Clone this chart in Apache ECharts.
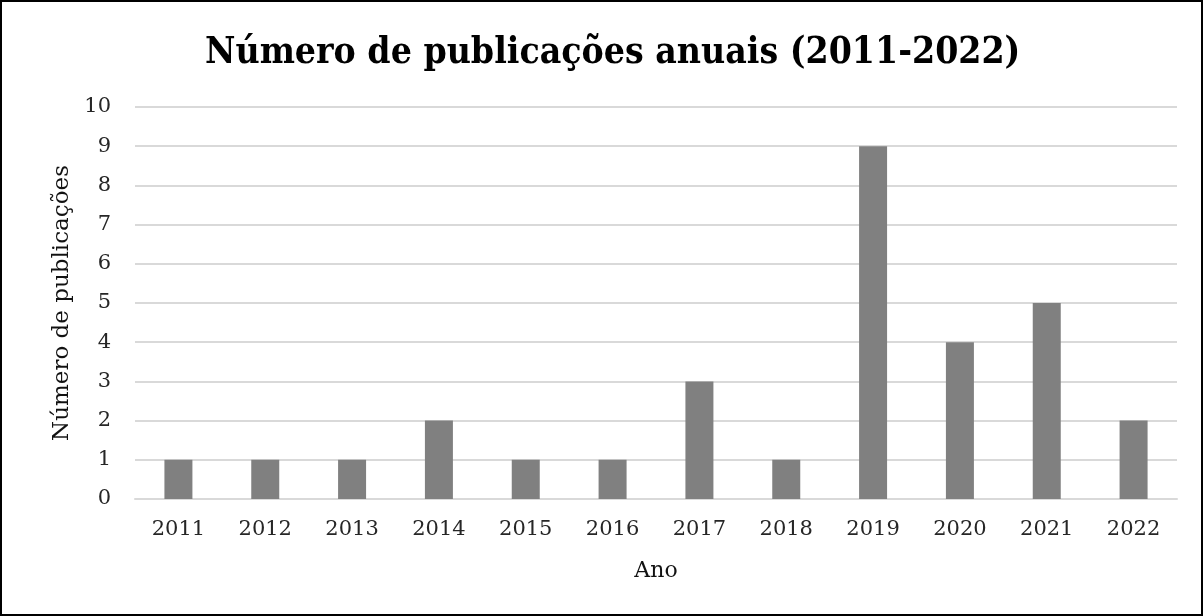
<!DOCTYPE html>
<html>
<head>
<meta charset="utf-8">
<script src="https://cdn.jsdelivr.net/npm/echarts@6/dist/echarts.min.js"></script>
<style>
  html, body { margin: 0; padding: 0; background: #fff; }
  #main { width: 1199px; height: 612px; border: 2px solid #000; }
</style>
</head>
<body>
<div id="main"></div>
<script>
    var anos = ['2011', '2012', '2013', '2014', '2015', '2016', '2017', '2018', '2019', '2020', '2021', '2022'];
    var publicacoes = [1, 1, 1, 2, 1, 1, 3, 1, 9, 4, 5, 2];

    var myChart = echarts.init(document.getElementById('main'));
    var serif = '"DejaVu Serif", "Liberation Serif", serif';

    var option = {
        backgroundColor: '#fff',
        title: {
            text: 'Número de publicações anuais (2011-2022)',
            left: 198,
            top: 28,
            textStyle: {
                fontFamily: '"DejaVu Serif Condensed", "DejaVu Serif", serif',
                fontWeight: 'bold',
                fontSize: 37,
                color: '#000'
            }
        },
        grid: {
            left: 133,
            right: 24,
            top: 105,
            bottom: 115
        },
        xAxis: {
            type: 'category',
            data: anos,
            name: 'Ano',
            nameLocation: 'middle',
            nameGap: 61,
            nameTextStyle: { fontFamily: serif, fontSize: 22, color: '#111' },
            axisLine: { lineStyle: { color: '#d9d9d9', width: 2 } },
            axisTick: { show: false },
            axisLabel: { fontFamily: serif, fontSize: 21, color: '#262626', margin: 20 }
        },
        yAxis: {
            type: 'value',
            min: 0,
            max: 10,
            interval: 1,
            name: 'Número de publicações',
            nameLocation: 'middle',
            nameGap: 61,
            nameTextStyle: { fontFamily: serif, fontSize: 23, color: '#111' },
            axisLine: { show: false },
            axisTick: { show: false },
            axisLabel: { fontFamily: serif, fontSize: 21, color: '#262626', margin: 24 },
            splitLine: { lineStyle: { color: '#d9d9d9', width: 2 } }
        },
        series: [
            {
                name: 'Publicações',
                type: 'bar',
                barWidth: 28,
                itemStyle: { color: '#808080' },
                data: publicacoes
            }
        ]
    };

    myChart.setOption(option);
</script>
</body>
</html>
